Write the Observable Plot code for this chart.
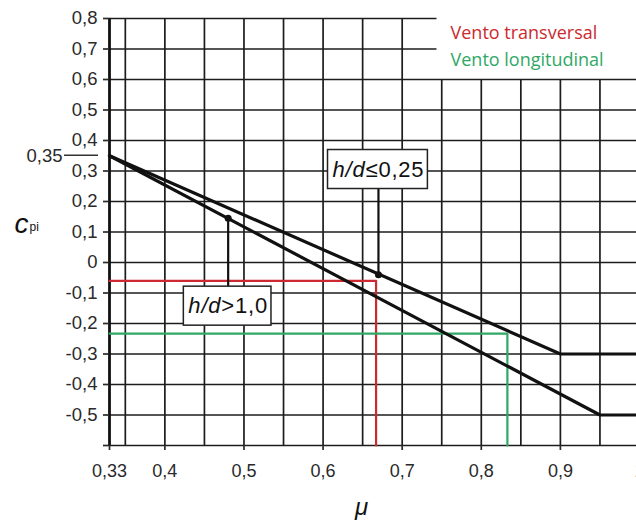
<!DOCTYPE html>
<html><head><meta charset="utf-8">
<script src="https://cdn.jsdelivr.net/npm/d3@7"></script>
<script src="https://cdn.jsdelivr.net/npm/@observablehq/plot@0.6"></script>
<style>
html,body{margin:0;padding:0;background:#fff;overflow:hidden;}
svg{display:block;}
</style></head><body>
<div id="chart"></div>
<script>
// grid and tick values
const muGrid = [0.35,0.4,0.45,0.5,0.55,0.6,0.65,0.7,0.75,0.8,0.85,0.9,0.95,1.0];
const muTickLabels = [0.33,0.4,0.5,0.6,0.7,0.8,0.9,1.0];
const cpiGrid = [-0.6,-0.5,-0.4,-0.3,-0.2,-0.1,0,0.1,0.2,0.3,0.4,0.5,0.6,0.7,0.8];
const cpiTickLabels = [-0.5,-0.4,-0.3,-0.2,-0.1,0,0.1,0.2,0.3,0.4,0.5,0.6,0.7,0.8];
const markedCpi = 0.35;
// curves
const lowRatioMu = [0.33,0.9,1.0];
const lowRatioCpi = [0.35,-0.3,-0.3];
const highRatioMu = [0.33,0.95,1.0];
const highRatioCpi = [0.35,-0.5,-0.5];
// reading lines
const transversalMu = [0.33,0.667,0.667];
const transversalCpi = [-0.06,-0.06,-0.6];
const longitudinalMu = [0.33,0.833,0.833];
const longitudinalCpi = [-0.233,-0.233,-0.6];
// annotations
const annotLabels = ["h/d≤0,25","h/d>1,0"];
const annotMu = [0.67,0.48];
const annotCpi = [-0.04,0.145];
const annotBoxCpi = [0.305,-0.143];
// legend
const legendLabels = ["Vento transversal","Vento longitudinal"];
const legendColors = ["#cc2a30","#2fa866"];
const legendCutMu = 0.744, legendCutCpi = 0.6;

const pairs = (a,b) => a.map((v,i)=>[v,b[i]]);
const annot = annotLabels.map((t,i)=>({label:t, mu:annotMu[i], cpi:annotCpi[i], box:annotBoxCpi[i]}));
const fmt = d => d === 1 ? "1" : (Math.round(d*100)/100).toString().replace(".", ",");
const INK = "#1c1c1c";

const chart = Plot.plot({
  width: 636, height: 520,
  marginLeft: 109, marginRight: 0, marginTop: 18, marginBottom: 75,
  x: {domain: [0.33, 1.0], range: [109, 639]},
  y: {domain: [-0.6, 0.8], range: [445, 18]},
  style: {fontFamily: "'Liberation Sans', Arial, sans-serif", background: "#fff", overflow: "hidden"},
  marks: [
    Plot.ruleX(muGrid, {x: d=>d, y1: -0.6, y2: d => d >= 0.75 ? legendCutCpi : 0.8, stroke: INK, strokeWidth: 1.7}),
    Plot.ruleY(cpiGrid, {y: d=>d, x1: 0.33, x2: d => d >= 0.7 ? legendCutMu : 1.0, stroke: INK, strokeWidth: 1.7}),
    Plot.ruleX([0.33], {x: d=>d, y1: -0.6, y2: 0.8, stroke: "#111", strokeWidth: 2.8}),
    Plot.axisY(cpiGrid, {anchor: "left", tickSize: 6, tickPadding: 6, tickFormat: d => cpiTickLabels.includes(d) ? fmt(d) : "", fontSize: 18.5, color: "#2a2a2a", strokeWidth: 1.7, label: null}),
    Plot.axisX(muTickLabels, {anchor: "bottom", tickSize: 5, tickPadding: 14, tickFormat: fmt, fontSize: 18, color: "#2a2a2a", strokeWidth: 1.7, label: null}),
    Plot.line(pairs(transversalMu, transversalCpi), {stroke: legendColors[0], strokeWidth: 2.2}),
    Plot.line(pairs(longitudinalMu, longitudinalCpi), {stroke: legendColors[1], strokeWidth: 2.2}),
    Plot.line(pairs(lowRatioMu, lowRatioCpi), {stroke: "#111", strokeWidth: 3.2}),
    Plot.line(pairs(highRatioMu, highRatioCpi), {stroke: "#111", strokeWidth: 3.2}),
    Plot.ruleX(annot, {x: "mu", y1: "cpi", y2: "box", stroke: "#111", strokeWidth: 2.2}),
    Plot.dot(annot, {x: "mu", y: "cpi", r: 3.5, fill: "#111"}),
    Plot.text(annot, {x: "mu", y: "box", text: "label", fontSize: 22, fill: "#111"}),
    Plot.text([legendLabels[0]], {frameAnchor: "top-left", dx: 341, dy: 15, text: d=>d, fill: legendColors[0], fontSize: 18, fontFamily: "'Open Sans', sans-serif", textAnchor: "start", lineAnchor: "middle"}),
    Plot.text([legendLabels[1]], {frameAnchor: "top-left", dx: 341, dy: 42, text: d=>d, fill: legendColors[1], fontSize: 18, fontFamily: "'Open Sans', sans-serif", textAnchor: "start", lineAnchor: "middle"}),
    Plot.text([markedCpi], {y: d=>d, text: d => fmt(d), frameAnchor: "left", dx: -47, textAnchor: "end", fontSize: 18.5, fill: "#2a2a2a"}),
    Plot.text(["c"], {frameAnchor: "top-left", dx: -95, dy: 214, text: d=>d, fontSize: 28, fontStyle: "italic", fill: "#111", textAnchor: "start", lineAnchor: "bottom"}),
    Plot.text(["pi"], {frameAnchor: "top-left", dx: -80, dy: 212, text: d=>d, fontSize: 12, fill: "#111", textAnchor: "start", lineAnchor: "bottom"}),
    Plot.text(["μ"], {frameAnchor: "bottom-left", dx: 252, dy: 62, text: d=>d, fontSize: 24, fontStyle: "italic", fill: "#111", textAnchor: "middle", lineAnchor: "middle"})
  ]
});
document.getElementById("chart").append(chart);

// boxed annotation labels with italic h/d
d3.select(chart).selectAll("text").filter(function(){ return annotLabels.includes(this.textContent); }).each(function(){
  const t = d3.select(this);
  const s = this.textContent;
  t.text(null).attr("letter-spacing", 0.8);
  t.append("tspan").attr("font-style", "italic").text(s.slice(0,3));
  t.append("tspan").text(s.slice(3));
  const b = this.getBBox();
  const r = document.createElementNS("http://www.w3.org/2000/svg", "rect");
  this.parentNode.insertBefore(r, this);
  d3.select(r)
    .attr("x", b.x - 5).attr("y", b.y - 7).attr("width", b.width + 8).attr("height", b.height + 14)
    .attr("transform", t.attr("transform"))
    .attr("fill", "#fff").attr("stroke", "#222").attr("stroke-width", 1.5);
});
// short rule beside the 0,35 label
const xs = chart.scale("x"), ys = chart.scale("y");
d3.select(chart).append("line")
  .attr("x1", xs.apply(0.33) - 45).attr("x2", xs.apply(0.33) - 11)
  .attr("y1", ys.apply(markedCpi)).attr("y2", ys.apply(markedCpi))
  .attr("stroke", "#333").attr("stroke-width", 1.3);
</script>
</body></html>
